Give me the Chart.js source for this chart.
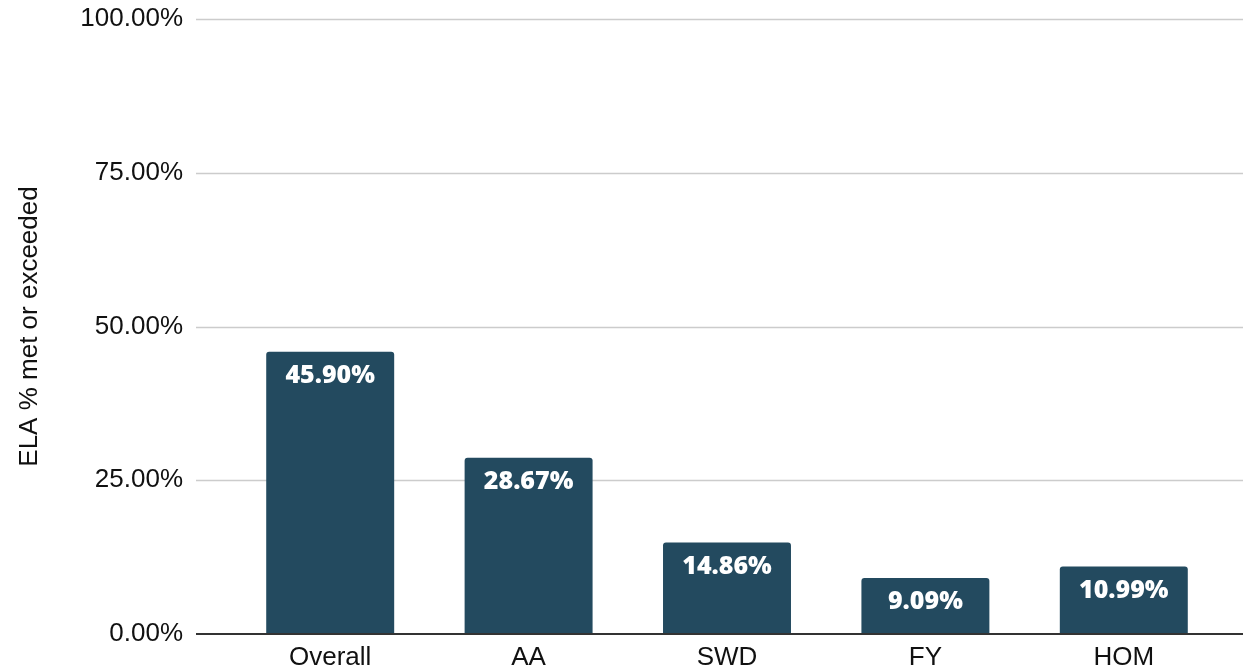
<!DOCTYPE html>
<html lang="en">
<head>
  <meta charset="UTF-8">
  <title>ELA % met or exceeded</title>
  <script src="https://cdn.jsdelivr.net/npm/chart.js"></script>
  <style>
    body {
      margin: 0;
      padding: 0;
      background-color: #ffffff;
    }

    .chart-box {
      width: 1243px;
      height: 672px;
      position: relative;
    }
  </style>
</head>
<body>
  <div class="chart-box">
    <canvas id="elaChart"></canvas>
  </div>

  <script>
    const categories = ['Overall', 'AA', 'SWD', 'FY', 'HOM'];
    const elaValues = [45.90, 28.67, 14.86, 9.09, 10.99];
    const tickValues = [0, 25, 50, 75, 100];

    const barColor = '#234a5f';
    const tickFont = { family: "'Liberation Sans', Arial, sans-serif", size: 26 };

    // full-width horizontal gridlines, like the sheet export
    const gridPlugin = {
      id: 'fullGrid',
      beforeDatasetsDraw(chart) {
        const ctx = chart.ctx;
        const y = chart.scales.y;
        ctx.save();
        ctx.strokeStyle = '#cccccc';
        ctx.lineWidth = 1.5;
        tickValues.forEach(v => {
          if (v === 0) return;
          const py = Math.round(y.getPixelForValue(v)) + 0.5;
          ctx.beginPath();
          ctx.moveTo(196, py);
          ctx.lineTo(chart.width, py);
          ctx.stroke();
        });
        ctx.restore();
      },
      afterDatasetsDraw(chart) {
        const ctx = chart.ctx;
        const py = chart.scales.y.getPixelForValue(0);
        ctx.save();
        ctx.strokeStyle = '#333333';
        ctx.lineWidth = 2;
        ctx.beginPath();
        ctx.moveTo(196, py);
        ctx.lineTo(chart.width, py);
        ctx.stroke();

        // value labels inside the bars
        const meta = chart.getDatasetMeta(0);
        ctx.fillStyle = '#ffffff';
        ctx.font = "800 25px 'Open Sans', sans-serif";
        ctx.textAlign = 'center';
        ctx.textBaseline = 'middle';
        meta.data.forEach((bar, i) => {
          ctx.fillText(elaValues[i].toFixed(2) + '%', bar.x, bar.y + 24);
        });
        ctx.restore();
      }
    };

    new Chart(document.getElementById('elaChart'), {
      type: 'bar',
      data: {
        labels: categories,
        datasets: [{
          label: 'ELA % met or exceeded',
          data: elaValues,
          backgroundColor: barColor,
          borderRadius: { topLeft: 3, topRight: 3 },
          barPercentage: 0.645,
          categoryPercentage: 1.0
        }]
      },
      options: {
        responsive: true,
        maintainAspectRatio: false,
        animation: false,
        layout: { padding: { top: 19, right: 20, left: 0, bottom: 0 } },
        plugins: {
          legend: { display: false },
          tooltip: { enabled: false }
        },
        scales: {
          x: {
            grid: { display: false, drawTicks: false },
            border: { display: false },
            ticks: { color: '#111111', font: tickFont, padding: 8, maxRotation: 0 },
            afterFit(scale) {
              scale.height = 38;
              scale.paddingLeft = 0;
              scale.paddingRight = 0;
            }
          },
          y: {
            min: 0,
            max: 100,
            afterBuildTicks(scale) {
              scale.ticks = tickValues.map(v => ({ value: v }));
            },
            grid: { display: false, drawTicks: false },
            border: { display: false },
            ticks: {
              color: '#111111',
              font: tickFont,
              padding: 48,
              callback: v => v.toFixed(2) + '%'
            },
            title: {
              display: true,
              text: 'ELA % met or exceeded',
              color: '#111111',
              font: tickFont,
              padding: { top: 14, bottom: 0 }
            },
            afterFit(scale) {
              scale.width = 231;
              scale.paddingTop = 0;
              scale.paddingBottom = 0;
            }
          }
        }
      },
      plugins: [gridPlugin]
    });
  </script>
</body>
</html>
